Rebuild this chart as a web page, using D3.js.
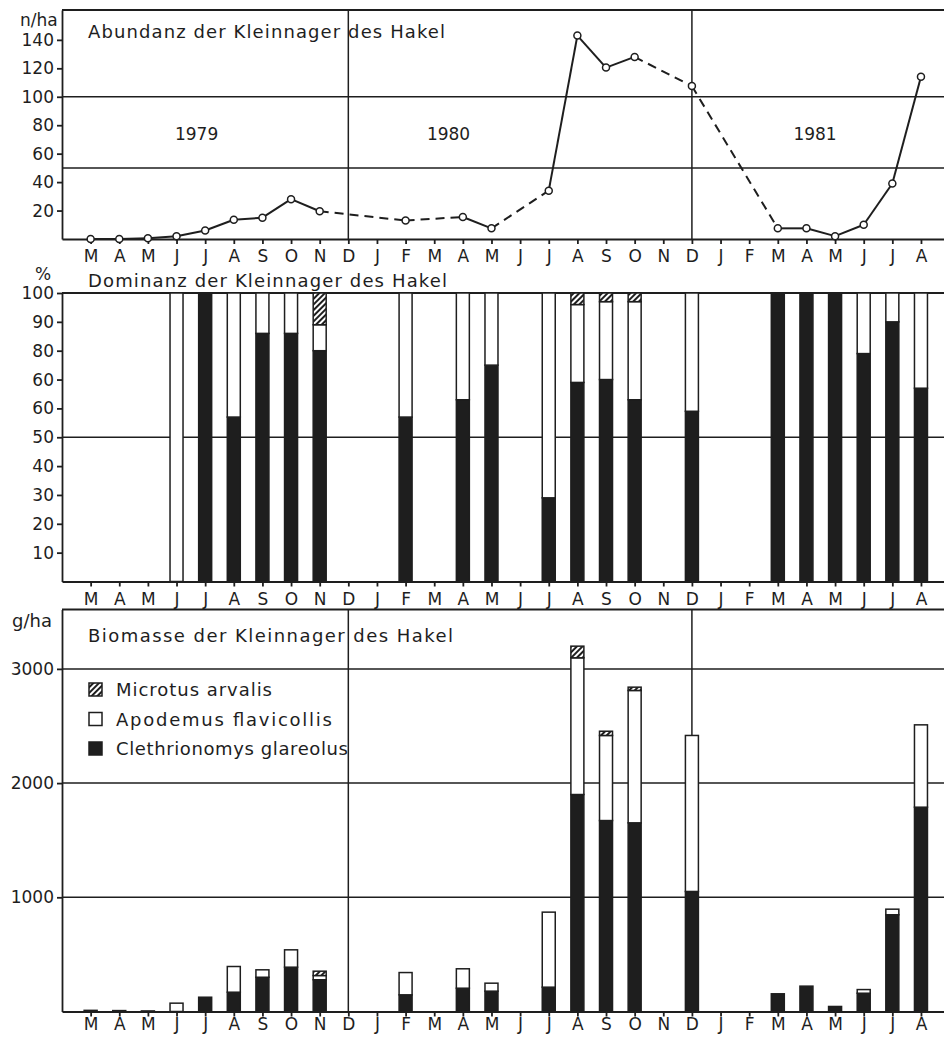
<!DOCTYPE html>
<html>
<head>
<meta charset="utf-8">
<script src="https://cdn.jsdelivr.net/npm/d3@7"></script>
<style>
	body { margin: 0; background: #fff; }
	svg { display: block; font-family: "DejaVu Sans", sans-serif; }
	.axis text { font-family: "DejaVu Sans", sans-serif; font-size: 17px; fill: #1e1e1e; }
	.axis line, .axis path { stroke: #1e1e1e; stroke-width: 1.8; }
</style>
</head>
<body>
<svg id="chart" width="944" height="1038"></svg>
<script>

// months March 1979 .. August 1981
var months = ["M","A","M","J","J","A","S","O","N","D","J","F",
	"M","A","M","J","J","A","S","O","N","D","J","F",
	"M","A","M","J","J","A"];

// abundance (n/ha), index into months
var abIdx = [0,1,2,3,4,5,6,7,8,11,13,14,16,17,18,19,21,24,25,26,27,28,29];
var abVal = [0,0,0.5,2,6,13.5,15,28,19.5,13,15.5,7.5,34,143,120.5,128,107.5,7.5,7.5,2,10,39,114];
var abTicks = [20,40,60,80,100,120,140];

// dominance (%)
var domIdx  = [3,4,5,6,7,8,11,13,14,16,17,18,19,21,24,25,26,27,28,29];
var domClet = [0,100,57,86,86,80,57,63,75,29,69,70,63,59,100,100,100,79,90,67];
var domApod = [100,0,43,14,14,9,43,37,25,71,27,27,34,41,0,0,0,21,10,33];
var domMicr = [0,0,0,0,0,11,0,0,0,0,4,3,3,0,0,0,0,0,0,0];
var domTicks = [10,20,30,40,50,60,70,80,90,100];
var domTickLabels = ["10","20","30","40","50","60","60","80","90","100"];

// biomass (g/ha)
var bioIdx  = [0,1,2,3,4,5,6,7,8,11,13,14,16,17,18,19,21,24,25,26,27,28,29];
var bioClet = [0,0,0,0,125,169,300,388,278,146,204,178,213,1900,1672,1652,1051,155,222,44,160,847,1789];
var bioApod = [10,8,5,73,0,225,65,152,37,195,170,70,657,1197,745,1159,1366,0,0,0,32,49,721];
var bioMicr = [0,0,0,0,0,0,0,0,38,0,0,0,0,102,37,29,0,0,0,0,0,0,0];
var bioTicks = [1000,2000,3000];

var years = ["1979","1980","1981"];
var yearPos = [3.7,12.5,25.3];
var species = ["Microtus arvalis","Apodemus flavicollis","Clethrionomys glareolus"];

var ink = "#1e1e1e";
var svg = d3.select("#chart");

// hatch pattern for Microtus
svg.append("defs").append("pattern")
	.attr("id", "hatch")
	.attr("patternUnits", "userSpaceOnUse")
	.attr("width", 4).attr("height", 4)
	.attr("patternTransform", "rotate(45)")
	.call(function(p) {
		p.append("rect").attr("width", 4).attr("height", 4).attr("fill", "#fff");
		p.append("line").attr("x1", 1).attr("x2", 1).attr("y1", 0).attr("y2", 4)
			.attr("stroke", ink).attr("stroke-width", 2);
	});

var x = d3.scaleLinear().domain([-1, 30]).range([62, 949.6]);
var barW = 13;

var yAb = d3.scaleLinear().domain([0, 161]).range([239, 10]);
var yDom = d3.scaleLinear().domain([0, 100]).range([581.5, 293]);
var yBio = d3.scaleLinear().domain([0, 3520]).range([1011.5, 609.5]);

function hline(y, w) {
	svg.append("line").attr("x1", 62).attr("x2", 944).attr("y1", y).attr("y2", y)
		.attr("stroke", ink).attr("stroke-width", w || 1.5);
}
function vline(xv, y1, y2) {
	svg.append("line").attr("x1", xv).attr("x2", xv).attr("y1", y1).attr("y2", y2)
		.attr("stroke", ink).attr("stroke-width", 1.5);
}
function label(txt, xp, yp, size, len, anchor) {
	var t = svg.append("text").attr("x", xp).attr("y", yp)
		.attr("font-size", size).attr("fill", ink)
		.attr("text-anchor", anchor || "start").text(txt);
	if (len) t.attr("textLength", len).attr("lengthAdjust", "spacing");
	return t;
}
function xAxis(yp, pad) {
	svg.append("g").attr("class", "axis")
		.attr("transform", "translate(0," + yp + ")")
		.call(d3.axisBottom(x).tickValues(d3.range(30))
			.tickFormat(function(i) { return months[i]; })
			.tickSize(5).tickSizeOuter(0).tickPadding(pad));
}
function yAxis(scale, ticks, fmt) {
	svg.append("g").attr("class", "axis")
		.attr("transform", "translate(62,0)")
		.call(d3.axisLeft(scale).tickValues(ticks).tickFormat(fmt)
			.tickSize(5).tickSizeOuter(0).tickPadding(3));
}
function stackBars(idx, clet, apod, micr, scale) {
	var table = idx.map(function(d, i) {
		return {i: d, clet: clet[i], apod: apod[i], micr: micr[i]};
	});
	var layers = d3.stack().keys(["clet", "apod", "micr"])(table);
	var fills = {clet: ink, apod: "#fff", micr: "url(#hatch)"};
	layers.forEach(function(layer) {
		svg.append("g").selectAll("rect")
			.data(layer.filter(function(d) { return d[1] > d[0]; }))
			.enter().append("rect")
			.attr("x", function(d) { return x(d.data.i) - barW / 2; })
			.attr("width", barW)
			.attr("y", function(d) { return scale(d[1]); })
			.attr("height", function(d) { return scale(d[0]) - scale(d[1]); })
			.attr("fill", fills[layer.key])
			.attr("stroke", ink).attr("stroke-width", 1.5);
	});
}

// ---- abundance panel
hline(yAb(161), 2);
[100, 50].forEach(function(v) { hline(yAb(v)); });
vline(x(9), yAb(161), yAb(0));
vline(x(21), yAb(161), yAb(0));
years.forEach(function(y, i) { label(y, x(yearPos[i]), 140, 17, null, "middle"); });
label("Abundanz  der  Kleinnager  des  Hakel", 88, 38, 18, 357);
label("n/ha", 20, 26, 17);

for (var i = 0; i < abIdx.length - 1; i++) {
	svg.append("line")
		.attr("x1", x(abIdx[i])).attr("y1", yAb(abVal[i]))
		.attr("x2", x(abIdx[i + 1])).attr("y2", yAb(abVal[i + 1]))
		.attr("stroke", ink).attr("stroke-width", 2)
		.attr("stroke-dasharray", abIdx[i + 1] - abIdx[i] > 1 ? "9,6" : null);
}
xAxis(239, 6);
yAxis(yAb, abTicks, d3.format("d"));
svg.append("g").selectAll("circle")
	.data(abIdx).enter().append("circle")
	.attr("cx", function(d) { return x(d); })
	.attr("cy", function(d, i) { return yAb(abVal[i]); })
	.attr("r", 3.5).attr("fill", "#fff").attr("stroke", ink).attr("stroke-width", 1.5);

// ---- dominance panel
hline(yDom(100), 2);
hline(yDom(50));
label("%", 35, 280, 17);
label("Dominanz  der  Kleinnager  des  Hakel", 88, 287, 18, 359);
stackBars(domIdx, domClet, domApod, domMicr, yDom);
xAxis(581.5, 6);
yAxis(yDom, domTicks, function(d, i) { return domTickLabels[i]; });

// ---- biomass panel
hline(yBio(3520), 2);
bioTicks.forEach(function(v) { hline(yBio(v)); });
vline(x(9), yBio(3520), yBio(0));
vline(x(21), yBio(3520), yBio(0));
label("g/ha", 12, 627, 18);
label("Biomasse  der  Kleinnager  des  Hakel", 88, 642, 18, 365);
stackBars(bioIdx, bioClet, bioApod, bioMicr, yBio);
xAxis(1011.5, 1);
yAxis(yBio, bioTicks, d3.format("d"));

// legend
var legFill = ["url(#hatch)", "#fff", ink];
var legLen = [156, 216, 232];
species.forEach(function(s, i) {
	var yy = 683 + i * 29.5;
	svg.append("rect").attr("x", 89).attr("y", yy).attr("width", 13).attr("height", 13)
		.attr("fill", legFill[i]).attr("stroke", ink).attr("stroke-width", 1.5);
	label(s, 116, yy + 13, 18, legLen[i]);
});

</script>
</body>
</html>
